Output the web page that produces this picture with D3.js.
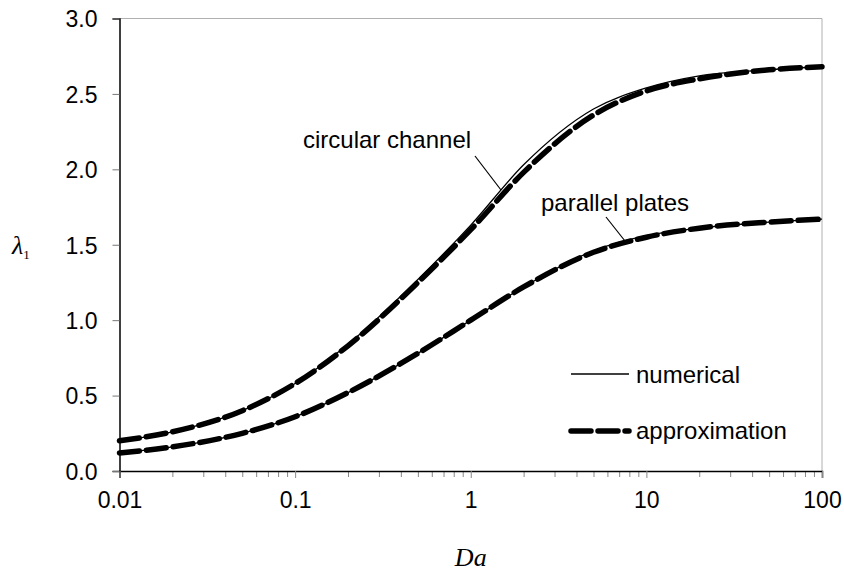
<!DOCTYPE html>
<html>
<head>
<meta charset="utf-8">
<script src="https://cdn.jsdelivr.net/npm/d3@7"></script>
<style>
  body { margin: 0; background: #fff; }
  svg { display: block; }
  text { font-family: "Liberation Sans", Arial, sans-serif; fill: #000; }
</style>
</head>
<body>
<svg id="chart" width="844" height="573"></svg>
<script>
// ---- data ----
const da = [0.01, 0.02, 0.05, 0.1, 0.2, 0.5, 1, 2, 5, 10, 20, 50, 100];
const circularApprox = [0.20, 0.26, 0.40, 0.58, 0.83, 1.25, 1.60, 1.98, 2.36, 2.52, 2.60, 2.66, 2.68];
const circularNumerical = [0.20, 0.26, 0.40, 0.58, 0.84, 1.27, 1.63, 2.03, 2.40, 2.54, 2.62, 2.66, 2.68];
const platesApprox = [0.12, 0.16, 0.25, 0.36, 0.52, 0.78, 1.00, 1.22, 1.45, 1.55, 1.61, 1.65, 1.67];
const platesNumerical = [0.12, 0.16, 0.25, 0.36, 0.52, 0.78, 1.00, 1.22, 1.46, 1.56, 1.61, 1.65, 1.67];
const xTicks = [0.01, 0.1, 1, 10, 100];
const xTickLabels = ["0.01", "0.1", "1", "10", "100"];
const yTicks = [0, 0.5, 1.0, 1.5, 2.0, 2.5, 3.0];
const legendLabels = ["numerical", "approximation"];

// ---- layout ----
const svg = d3.select("#chart");
const mLeft = 119.5, mRight = 822, mTop = 18.5, mBottom = 471;
const x = d3.scaleLog().domain([0.01, 100]).range([mLeft, mRight]);
const y = d3.scaleLinear().domain([0, 3]).range([mBottom, mTop]);

// frame (top & right gray)
svg.append("path")
  .attr("d", `M${mLeft},${mTop}H${mRight}V${mBottom}`)
  .attr("fill", "none").attr("stroke", "#b0b0b0").attr("stroke-width", 1);

// y axis
const yAxis = d3.axisLeft(y).tickValues(yTicks).tickFormat(d3.format(".1f")).tickSize(7).tickPadding(15);
const gy = svg.append("g").attr("transform", `translate(${mLeft},0)`).call(yAxis);
gy.select(".domain").attr("stroke", "#000").attr("stroke-width", 1.5);
gy.selectAll(".tick line").attr("stroke", "#777");
gy.selectAll(".tick text").style("font-size", "23px").attr("dy", "0.36em");

// x axis
const minor = [];
for (let e = -2; e < 2; e++) for (let m = 2; m <= 9; m++) minor.push(m * Math.pow(10, e));
const gxm = svg.append("g").attr("transform", `translate(0,${mBottom})`)
  .call(d3.axisBottom(x).tickValues(minor).tickFormat("").tickSize(6));
gxm.select(".domain").remove();
gxm.selectAll(".tick line").attr("stroke", "#888");
const gx = svg.append("g").attr("transform", `translate(0,${mBottom})`)
  .call(d3.axisBottom(x).tickValues(xTicks).tickFormat((d, i) => xTickLabels[i]).tickSize(7).tickPadding(14));
gx.select(".domain").attr("stroke", "#000").attr("stroke-width", 1.5);
gx.selectAll(".tick line").attr("stroke", "#888");
gx.selectAll(".tick text").style("font-size", "23px");

// axis titles
svg.append("text").attr("x", (mLeft + mRight) / 2).attr("y", 566)
  .attr("text-anchor", "middle")
  .style("font-family", "'Liberation Serif', 'Times New Roman', serif")
  .style("font-style", "italic").style("font-size", "26px").text("Da");
const lam = svg.append("text").attr("x", 12).attr("y", 254)
  .style("font-family", "'Liberation Serif', 'Times New Roman', serif")
  .style("font-size", "26px");
lam.append("tspan").style("font-style", "italic").text("λ");
lam.append("tspan").attr("dy", 5).style("font-size", "13px").text("1");

// lines
const line = d3.line().x((d, i) => x(da[i])).y(d => y(d)).curve(d3.curveMonotoneX);
function drawSeries(vals, kind) {
  const p = svg.append("path").datum(vals).attr("d", line).attr("fill", "none").attr("stroke", "#000");
  if (kind === "num") p.attr("stroke-width", 1.3);
  else p.attr("stroke-width", 5.5).attr("stroke-dasharray", "20,7").attr("stroke-linecap", "round");
}
drawSeries(circularNumerical, "num");
drawSeries(platesNumerical, "num");
drawSeries(circularApprox, "approx");
drawSeries(platesApprox, "approx");

// annotations
svg.append("text").attr("x", 303).attr("y", 148).style("font-size", "24px").text("circular channel");
svg.append("line").attr("x1", 475).attr("y1", 156).attr("x2", 501).attr("y2", 190).attr("stroke", "#000").attr("stroke-width", 1.2);
svg.append("text").attr("x", 541).attr("y", 211).style("font-size", "24px").text("parallel plates");
svg.append("line").attr("x1", 606).attr("y1", 217).attr("x2", 625).attr("y2", 241).attr("stroke", "#000").attr("stroke-width", 1.2);

// legend
svg.append("line").attr("x1", 571).attr("x2", 629).attr("y1", 374).attr("y2", 374).attr("stroke", "#000").attr("stroke-width", 1.3);
svg.append("text").attr("x", 636).attr("y", 383).style("font-size", "24px").text(legendLabels[0]);
svg.append("line").attr("x1", 571).attr("x2", 629).attr("y1", 431).attr("y2", 431)
  .attr("stroke", "#000").attr("stroke-width", 5.5).attr("stroke-dasharray", "20,7").attr("stroke-linecap", "round");
svg.append("text").attr("x", 636).attr("y", 439).style("font-size", "24px").text(legendLabels[1]);
</script>
</body>
</html>
